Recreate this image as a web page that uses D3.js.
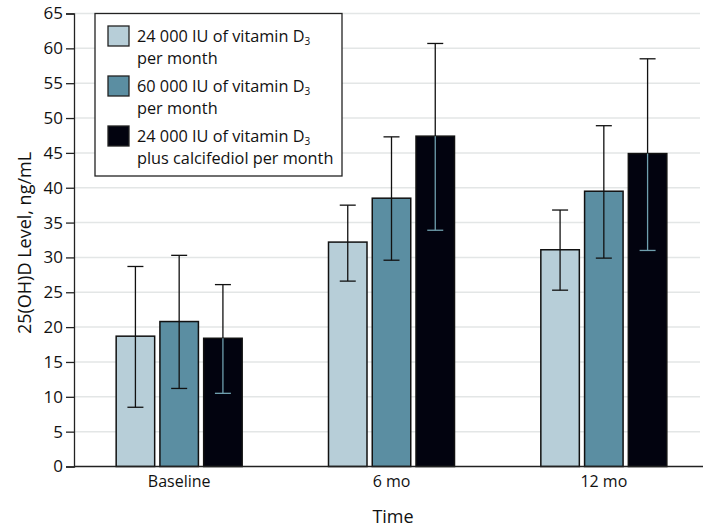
<!DOCTYPE html>
<html>
<head>
<meta charset="utf-8">
<script src="https://cdn.jsdelivr.net/npm/d3@7"></script>
<style>
  body { margin: 0; background: #fff; }
  text { font-family: "Open Sans", "Noto Sans", sans-serif; fill: #111; }
</style>
</head>
<body>
<script>
// Categories and series
const timePoints = ['Baseline', '6 mo', '12 mo'];
const groups = ['g1', 'g2', 'g3'];
const groupLabels = [
  ['24 000 IU of vitamin D', 'per month'],
  ['60 000 IU of vitamin D', 'per month'],
  ['24 000 IU of vitamin D', 'plus calcifediol per month']
];
const groupColors = ['#b7ced8', '#5b8ea2', '#02030f'];
const errColors = ['#111', '#111', '#111'];
const innerErrColors = ['#111', '#111', '#6f9fae'];

// Mean values per time point (rows) and group (columns)
const means = [
  [18.7, 20.8, 18.4],
  [32.2, 38.5, 47.4],
  [31.1, 39.5, 44.9]
];
const lower = [
  [8.5, 11.2, 10.5],
  [26.6, 29.6, 33.9],
  [25.3, 29.9, 31.0]
];
const upper = [
  [28.7, 30.3, 26.1],
  [37.5, 47.3, 60.7],
  [36.8, 48.9, 58.5]
];
const yTicks = d3.range(0, 70, 5);

const W = 703, H = 529;
const svg = d3.select('body').append('svg')
  .attr('width', W).attr('height', H);

const y = d3.scaleLinear().domain([0, 65]).range([466.5, 13.5]);
const x0 = d3.scaleBand().domain(timePoints).range([73, 710]);
const x1 = d3.scaleBand().domain(groups).range([-63, 63]).paddingInner(0.12);

// gridlines
svg.append('g')
  .selectAll('line').data(yTicks.filter(d => d > 0)).enter().append('line')
  .attr('x1', 74).attr('x2', 700)
  .attr('y1', d => y(d)).attr('y2', d => y(d))
  .attr('stroke', '#e3e6e6').attr('stroke-width', 1.5);

// y axis
const yAxis = svg.append('g')
  .attr('transform', 'translate(74,0)')
  .call(d3.axisLeft(y).tickValues(yTicks).tickSize(8).tickPadding(3));
yAxis.select('.domain').attr('stroke', '#222').attr('stroke-width', 1.3);
yAxis.selectAll('.tick line').attr('stroke', '#222').attr('stroke-width', 1.3);
yAxis.selectAll('.tick text')
  .style('font-size', '17px').style('font-family', '"Open Sans", sans-serif').attr('fill', '#111');

// bars
const rows = timePoints.map((t, i) => ({ t, i }));
const gGroups = svg.append('g').selectAll('g').data(rows).enter().append('g')
  .attr('transform', d => 'translate(' + (x0(d.t) + x0.bandwidth() / 2) + ',0)');

gGroups.selectAll('rect')
  .data(d => groups.map((g, j) => ({ g, j, v: means[d.i][j] })))
  .enter().append('rect')
  .attr('x', d => x1(d.g))
  .attr('width', x1.bandwidth())
  .attr('y', d => y(d.v))
  .attr('height', d => y(0) - y(d.v))
  .attr('fill', d => groupColors[d.j])
  .attr('stroke', '#111').attr('stroke-width', 1.5);

// error bars
gGroups.each(function(d) {
  const g = d3.select(this);
  groups.forEach((grp, j) => {
    const cx = x1(grp) + x1.bandwidth() / 2;
    const m = means[d.i][j], lo = lower[d.i][j], hi = upper[d.i][j];
    const cap = 8;
    // part above the bar
    g.append('line').attr('x1', cx).attr('x2', cx)
      .attr('y1', y(hi)).attr('y2', y(m))
      .attr('stroke', errColors[j]).attr('stroke-width', 1.3);
    g.append('line').attr('x1', cx - cap).attr('x2', cx + cap)
      .attr('y1', y(hi)).attr('y2', y(hi))
      .attr('stroke', errColors[j]).attr('stroke-width', 1.3);
    // part inside the bar
    g.append('line').attr('x1', cx).attr('x2', cx)
      .attr('y1', y(m)).attr('y2', y(lo))
      .attr('stroke', innerErrColors[j]).attr('stroke-width', 1.3);
    g.append('line').attr('x1', cx - cap).attr('x2', cx + cap)
      .attr('y1', y(lo)).attr('y2', y(lo))
      .attr('stroke', innerErrColors[j]).attr('stroke-width', 1.3);
  });
});

// x axis
const xAxis = svg.append('g')
  .attr('transform', 'translate(0,' + y(0) + ')')
  .call(d3.axisBottom(x0).tickSize(0).tickPadding(9));
xAxis.select('.domain').attr('d', 'M74,0H703').attr('stroke', '#222').attr('stroke-width', 1.3);
xAxis.selectAll('.tick text')
  .style('font-size', '16px').style('font-family', '"Open Sans", sans-serif').attr('fill', '#111');

// axis titles
svg.append('text')
  .attr('transform', 'translate(31,243) rotate(-90)')
  .attr('text-anchor', 'middle')
  .style('font-size', '18px')
  .text('25(OH)D Level, ng/mL');

svg.append('text')
  .attr('x', 393).attr('y', 523)
  .attr('text-anchor', 'middle')
  .style('font-size', '18px')
  .text('Time');

// legend
const legend = svg.append('g');
legend.append('rect')
  .attr('x', 95).attr('y', 13.5).attr('width', 247).attr('height', 162.5)
  .attr('fill', '#fff').attr('stroke', '#222').attr('stroke-width', 1.3);

groupLabels.forEach((lines, j) => {
  const top = 26 + j * 50;
  legend.append('rect')
    .attr('x', 108).attr('y', top).attr('width', 21).attr('height', 20)
    .attr('fill', groupColors[j]).attr('stroke', '#222').attr('stroke-width', 1.3);
  const t = legend.append('text')
    .attr('x', 137).attr('y', top + 16)
    .style('font-size', '16.3px');
  t.append('tspan').text(lines[0]);
  t.append('tspan').attr('dy', 3).style('font-size', '10px').text('3');
  legend.append('text')
    .attr('x', 137).attr('y', top + 38)
    .style('font-size', '16.3px')
    .text(lines[1]);
});
</script>
</body>
</html>
